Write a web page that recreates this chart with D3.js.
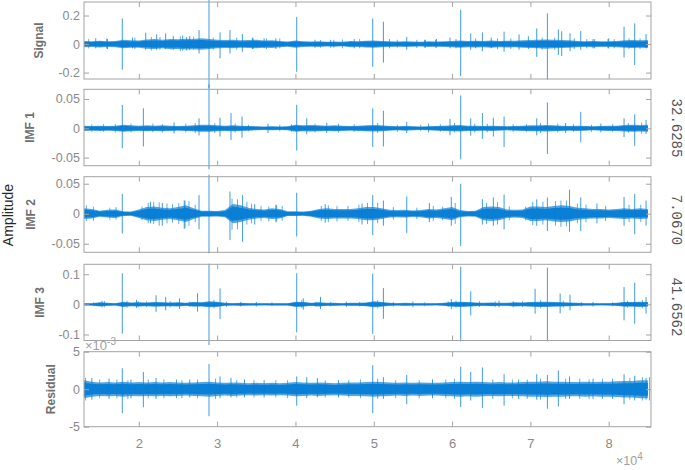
<!DOCTYPE html>
<html lang="en">
<head>
  <meta charset="UTF-8">
  <title>EMD decomposition</title>
  <style>
    body { margin: 0; background: #fff; }
    svg { display: block; font-family: "Liberation Sans", Arial, sans-serif; }
  </style>
</head>
<body>
<div id="chart"></div>
<script src="https://d3js.org/d3.v7.min.js"></script>
<script>
// ---- data ----
const xDomain = [13000, 85400];
const xTicks = [20000, 30000, 40000, 50000, 60000, 70000, 80000];
const xTickLabels = ['2', '3', '4', '5', '6', '7', '8'];

const panelNames = ['Signal', 'IMF 1', 'IMF 2', 'IMF 3', 'Residual'];
const yLimits = [[-0.245, 0.295], [-0.0638, 0.0665], [-0.0643, 0.0617], [-0.12, 0.133], [-5, 5]];
const yTickValues = [[-0.2, 0, 0.2], [-0.05, 0, 0.05], [-0.05, 0, 0.05], [-0.1, 0, 0.1], [-5, 0, 5]];
const yTickLabels = [['-0.2', '0', '0.2'], ['-0.05', '0', '0.05'], ['-0.05', '0', '0.05'], ['-0.1', '0', '0.1'], ['-5', '0', '5']];
const ratioLabels = [null, '32.6285', '7.0670', '41.6562', null];

// noise band half-width, one value per 1000 samples from 13000 to 85000
const envStart = 13000, envStep = 1000;
const sigEnv = [0.022,0.02,0.024,0.02,0.022,0.03,0.026,0.025,0.032,0.035,0.03,0.036,0.034,0.038,0.036,0.04,0.035,
  0.03,0.028,0.03,0.026,0.028,0.03,0.025,0.027,0.022,0.018,0.025,0.02,0.018,0.02,0.017,0.018,0.016,0.022,0.02,0.024,
  0.025,0.022,0.02,0.018,0.02,0.018,0.017,0.02,0.018,0.02,0.022,0.025,0.022,0.024,0.022,0.025,0.022,0.024,0.023,0.026,
  0.028,0.03,0.032,0.03,0.028,0.026,0.022,0.02,0.022,0.02,0.02,0.022,0.026,0.028,0.026,0.028];
const imf1Env = [0.0045,0.004,0.0045,0.004,0.0045,0.006,0.005,0.0045,0.005,0.0045,0.005,0.0045,0.004,0.0045,0.005,
  0.006,0.006,0.005,0.0045,0.005,0.0045,0.004,0.0035,0.003,0.0035,0.003,0.0035,0.006,0.005,0.0055,0.005,0.0045,0.005,
  0.0045,0.004,0.0045,0.005,0.0055,0.005,0.004,0.0035,0.004,0.0035,0.003,0.0035,0.004,0.0045,0.005,0.0055,0.0045,
  0.0045,0.004,0.0045,0.004,0.0035,0.004,0.0045,0.005,0.005,0.0055,0.005,0.0045,0.004,0.0045,0.004,0.0035,0.004,
  0.0045,0.0045,0.0055,0.006,0.0055,0.006];
const imf2Env = [0.009,0.008,0.005,0.0065,0.007,0.004,0.0035,0.007,0.011,0.012,0.01,0.009,0.011,0.014,0.009,0.005,
  0.005,0.0045,0.006,0.016,0.014,0.01,0.008,0.007,0.009,0.008,0.004,0.004,0.0035,0.005,0.008,0.009,0.008,0.008,0.008,
  0.009,0.011,0.011,0.009,0.0065,0.006,0.0065,0.0055,0.006,0.008,0.007,0.009,0.011,0.006,0.0045,0.005,0.011,0.012,
  0.011,0.007,0.0065,0.007,0.012,0.012,0.011,0.013,0.014,0.013,0.01,0.009,0.008,0.008,0.007,0.008,0.009,0.008,0.009,0.008];
const imf3Env = [0.004,0.004,0.007,0.005,0.004,0.009,0.006,0.007,0.006,0.008,0.007,0.006,0.007,0.005,0.008,0.007,
  0.01,0.009,0.005,0.004,0.005,0.004,0.004,0.0035,0.004,0.004,0.004,0.009,0.008,0.005,0.007,0.005,0.005,0.004,0.005,
  0.005,0.006,0.01,0.008,0.005,0.004,0.005,0.004,0.004,0.004,0.0035,0.005,0.008,0.009,0.008,0.006,0.005,0.006,0.005,
  0.005,0.007,0.006,0.008,0.009,0.009,0.008,0.007,0.006,0.005,0.004,0.004,0.0035,0.004,0.005,0.008,0.008,0.009,0.008];
const resEnv = [1.2,1.0,0.9,0.95,0.9,1.0,0.9,0.95,0.9,0.95,0.9,0.95,0.9,0.85,0.9,0.95,1.0,0.9,0.85,0.9,0.85,0.8,
  0.85,0.8,0.85,0.8,0.85,0.95,0.9,0.85,0.9,0.85,0.8,0.85,0.9,0.9,0.95,1.0,0.95,0.9,0.85,0.9,0.85,0.9,0.85,0.85,0.9,
  0.95,1.0,0.95,1.0,0.95,0.9,0.95,0.9,0.9,0.95,1.0,1.0,1.05,1.0,1.0,0.95,0.95,1.0,0.95,1.0,1.0,1.05,1.1,1.1,1.2,1.2];

// large spikes: [sample, top, bottom]
const sigSpikes = [[14500,0.04,-0.03],[16000,0.035,-0.035],[17890,0.18,-0.18],[19200,0.045,-0.03],[20880,0.08,-0.04],
  [22280,0.068,-0.04],[23430,0.075,-0.035],[24400,0.056,-0.04],[25600,0.06,-0.045],[26500,0.055,-0.04],
  [27690,0.098,-0.066],[28960,0.31,-0.31],[30370,0.082,-0.1],[31640,0.098,-0.066],[33220,0.07,-0.054],
  [34500,0.045,-0.035],[36000,0.04,-0.03],[37500,0.04,-0.035],[40160,0.19,-0.195],[42500,0.03,-0.025],
  [44500,0.03,-0.025],[47500,0.035,-0.03],[49870,0.18,-0.16],[51230,0.157,-0.13],[54210,0.05,-0.04],
  [56500,0.03,-0.025],[58000,0.035,-0.025],[59740,0.045,-0.03],[61100,0.24,-0.225],[62380,0.075,-0.04],
  [63870,0.082,-0.05],[65000,0.045,-0.03],[66640,0.087,-0.054],[68550,0.068,-0.04],[69740,0.055,-0.035],
  [70810,0.11,-0.09],[72170,0.215,-0.25],[73570,0.103,-0.077],[74000,0.09,-0.084],[75060,0.075,-0.05],
  [76430,0.091,-0.04],[78000,0.035,-0.03],[80000,0.04,-0.03],[81960,0.122,-0.094],[83320,0.145,-0.147],
  [84770,0.07,-0.03]];
const imf1Spikes = [[17890,0.04,-0.034],[20580,0.034,-0.031],[24500,0.01,-0.009],[27690,0.017,-0.012],
  [28960,0.075,-0.07],[30370,0.018,-0.014],[31770,0.026,-0.02],[33180,0.02,-0.016],[36500,0.008,-0.008],
  [40160,0.04,-0.038],[41440,0.017,-0.01],[44000,0.009,-0.008],[49870,0.034,-0.032],[51230,0.03,-0.031],
  [54210,0.011,-0.008],[57000,0.008,-0.007],[59740,0.016,-0.012],[61100,0.056,-0.053],[62380,0.017,-0.0125],
  [63870,0.026,-0.018],[65270,0.018,-0.014],[66640,0.02,-0.032],[70810,0.017,-0.012],[72170,0.044,-0.044],
  [74500,0.009,-0.008],[76430,0.028,-0.024],[79000,0.008,-0.007],[81960,0.017,-0.015],[83320,0.024,-0.03],
  [84770,0.014,-0.01]];
const imf2Spikes = [[17890,0.033,-0.033],[21500,0.02,-0.016],[23000,0.018,-0.02],[25800,0.022,-0.025],
  [27690,0.031,-0.026],[28960,0.065,-0.066],[31640,0.037,-0.044],[33250,0.031,-0.047],[34800,0.016,-0.018],
  [37500,0.015,-0.014],[40160,0.035,-0.038],[43800,0.016,-0.015],[48500,0.017,-0.018],[49870,0.031,-0.036],
  [51230,0.022,-0.02],[54210,0.029,-0.032],[57100,0.018,-0.014],[59900,0.028,-0.02],[61100,0.05,-0.054],
  [63870,0.024,-0.018],[65270,0.027,-0.02],[66640,0.032,-0.026],[70810,0.024,-0.02],[72170,0.027,-0.029],
  [75000,0.04,-0.03],[76430,0.027,-0.029],[78500,0.017,-0.016],[81960,0.028,-0.02],[83320,0.033,-0.034],
  [84770,0.022,-0.02]];
const imf3Spikes = [[15300,0.012,-0.01],[17890,0.103,-0.097],[19700,0.015,-0.012],[22200,0.03,-0.025],
  [23430,0.025,-0.02],[25200,0.02,-0.015],[27500,0.037,-0.024],[28960,0.135,-0.135],[30370,0.053,-0.049],
  [35000,0.008,-0.007],[40160,0.103,-0.093],[41000,0.02,-0.018],[43200,0.025,-0.015],[46500,0.009,-0.008],
  [49870,0.102,-0.098],[51230,0.054,-0.048],[55000,0.01,-0.009],[59900,0.018,-0.015],[61100,0.125,-0.123],
  [62380,0.043,-0.037],[66000,0.012,-0.01],[70600,0.052,-0.031],[72170,0.122,-0.123],[73800,0.036,-0.03],
  [75060,0.032,-0.02],[78000,0.008,-0.007],[81960,0.058,-0.053],[83320,0.072,-0.064],[84770,0.024,-0.031]];
const resSpikes = [[14000,1.5,-1.4],[16200,1.4,-1.3],[17890,2.8,-3.2],[19000,1.3,-1.2],[20580,2.3,-2.4],
  [22200,1.5,-1.3],[24800,1.3,-1.2],[26500,1.3,-1.1],[28960,3.35,-3.6],[30370,1.7,-1.2],[31770,1.5,-1.1],
  [33500,1.3,-1.1],[36000,1.2,-1.1],[40160,1.7,-2.2],[41440,1.6,-1.2],[42800,1.5,-1.1],[45500,1.2,-1.1],
  [49870,3.2,-3.2],[51230,1.6,-1.3],[54210,1.9,-2.0],[57500,1.3,-1.2],[61100,3.0,-2.4],[62380,2.3,-1.5],
  [63870,2.9,-2.5],[66640,2.0,-2.2],[68500,1.3,-1.3],[70810,2.0,-1.4],[72170,1.9,-2.6],[73570,2.5,-2.3],
  [75000,1.7,-1.3],[78000,1.4,-1.3],[80500,1.4,-1.3],[81960,2.0,-2.0],[83320,1.8,-1.5],[84770,1.5,-1.4]];

// small hairs sticking out of the band: [sample, top, bottom]
const sigHairs = [[13600,0.035,-0.03],[15900,0.038,-0.032],[19500,0.045,-0.035],[21600,0.05,-0.045],
  [22700,0.05,-0.04],[25300,0.055,-0.05],[26100,0.05,-0.045],[27000,0.052,-0.04],[29500,0.045,-0.04],
  [32500,0.045,-0.04],[34600,0.04,-0.035],[36300,0.04,-0.035],[38000,0.038,-0.03],[43200,0.028,-0.025],
  [44900,0.03,-0.025],[46000,0.032,-0.03],[48200,0.035,-0.03],[52000,0.035,-0.03],[53000,0.03,-0.025],
  [55500,0.03,-0.028],[56600,0.03,-0.025],[57900,0.03,-0.025],[60500,0.035,-0.03],[63000,0.04,-0.03],
  [65800,0.04,-0.035],[67500,0.04,-0.035],[71500,0.045,-0.04],[73100,0.045,-0.04],[75600,0.04,-0.035],
  [77200,0.035,-0.03],[78200,0.035,-0.03],[79900,0.035,-0.03],[80700,0.035,-0.03],[82600,0.04,-0.035],
  [84000,0.04,-0.035]];
const imf1Hairs = [[14000,0.007,-0.006],[15500,0.007,-0.006],[17000,0.007,-0.007],[19000,0.008,-0.007],
  [21800,0.008,-0.007],[23000,0.007,-0.007],[26000,0.008,-0.007],[27200,0.009,-0.008],[29700,0.009,-0.008],
  [32300,0.008,-0.007],[34000,0.006,-0.005],[38000,0.006,-0.005],[39500,0.007,-0.006],[42500,0.008,-0.007],
  [45500,0.008,-0.007],[47500,0.007,-0.006],[50500,0.009,-0.008],[53000,0.006,-0.006],[56000,0.006,-0.005],
  [58500,0.007,-0.006],[60300,0.009,-0.007],[62900,0.008,-0.007],[64500,0.008,-0.007],[67800,0.007,-0.006],
  [69500,0.007,-0.006],[71300,0.009,-0.008],[73500,0.008,-0.007],[75500,0.007,-0.006],[77800,0.006,-0.006],
  [80500,0.007,-0.006],[82500,0.009,-0.008],[84200,0.01,-0.009]];
const imf2Hairs = [[13300,0.014,-0.012],[14200,0.012,-0.012],[16300,0.01,-0.01],[17100,0.011,-0.01],
  [20400,0.012,-0.011],[21200,0.018,-0.016],[21900,0.02,-0.017],[22600,0.019,-0.02],[23600,0.017,-0.016],
  [24300,0.016,-0.015],[25100,0.018,-0.017],[25900,0.022,-0.024],[26400,0.021,-0.02],[27200,0.015,-0.014],
  [31900,0.025,-0.027],[32600,0.024,-0.026],[33800,0.02,-0.018],[34400,0.017,-0.016],[35600,0.013,-0.012],
  [36600,0.012,-0.013],[37600,0.014,-0.013],[38300,0.013,-0.012],[43300,0.013,-0.012],[44200,0.014,-0.014],
  [45300,0.013,-0.013],[46700,0.013,-0.012],[48100,0.015,-0.014],[49200,0.018,-0.017],[50500,0.018,-0.016],
  [52500,0.011,-0.01],[55500,0.01,-0.009],[57600,0.013,-0.012],[58800,0.012,-0.011],[60400,0.018,-0.017],
  [64400,0.018,-0.017],[65800,0.019,-0.018],[67300,0.012,-0.011],[69400,0.012,-0.011],[70300,0.02,-0.019],
  [71600,0.02,-0.018],[73200,0.021,-0.02],[73900,0.022,-0.022],[74600,0.022,-0.021],[76000,0.017,-0.016],
  [77100,0.015,-0.014],[79600,0.013,-0.012],[82600,0.015,-0.014],[84100,0.015,-0.014]];
const imf3Hairs = [[14200,0.007,-0.006],[15600,0.011,-0.01],[18500,0.012,-0.011],[19900,0.011,-0.01],
  [21000,0.01,-0.009],[24000,0.011,-0.01],[26500,0.009,-0.008],[29600,0.015,-0.013],[31200,0.009,-0.008],
  [33000,0.008,-0.007],[37000,0.007,-0.006],[40800,0.014,-0.012],[42600,0.009,-0.008],[44500,0.008,-0.007],
  [48200,0.008,-0.007],[50500,0.014,-0.013],[52500,0.008,-0.007],[56500,0.007,-0.006],[59500,0.01,-0.009],
  [60500,0.012,-0.011],[63500,0.01,-0.009],[65500,0.01,-0.009],[67800,0.011,-0.01],[69000,0.01,-0.009],
  [71300,0.014,-0.013],[74200,0.012,-0.011],[76500,0.008,-0.007],[80500,0.007,-0.006],[82400,0.012,-0.011],
  [84300,0.014,-0.013]];
const resHairs = [[13200,1.5,-1.5],[15000,1.3,-1.2],[17200,1.3,-1.2],[18600,1.2,-1.3],[21200,1.3,-1.2],
  [23200,1.3,-1.2],[25500,1.2,-1.2],[27500,1.3,-1.2],[29800,1.4,-1.3],[32500,1.2,-1.1],[34700,1.2,-1.1],
  [37500,1.2,-1.1],[39000,1.2,-1.2],[43800,1.2,-1.1],[46800,1.2,-1.1],[48300,1.3,-1.2],[50500,1.4,-1.3],
  [52800,1.2,-1.2],[55800,1.2,-1.2],[59200,1.3,-1.2],[60300,1.4,-1.3],[65200,1.3,-1.3],[67700,1.3,-1.2],
  [69600,1.3,-1.3],[71300,1.4,-1.4],[74500,1.4,-1.3],[76300,1.4,-1.3],[77500,1.3,-1.3],[79200,1.4,-1.3],
  [82700,1.5,-1.4],[84300,1.6,-1.5],[85200,1.6,-1.5]];

const envs = [sigEnv, imf1Env, imf2Env, imf3Env, resEnv];
const spikes = [sigSpikes, imf1Spikes, imf2Spikes, imf3Spikes, resSpikes];
const hairs = [sigHairs, imf1Hairs, imf2Hairs, imf3Hairs, resHairs];

// ---- layout ----
const width = 685, height = 470;
const left = 84, right = 651;
const panelTop = [2, 89.3, 176.7, 264.3, 351.7];
const panelBottom = [79, 165.7, 252.3, 340.5, 426.7];
const nameX = [39, 30, 31, 40, 51];
const ratioY = [0, 128, 220, 307, 0];
const lineColor = '#0a7fd6';
const axisColor = '#a3a3a3';
const tickText = '#8a8a8a';
const coreShare = 0.72;

const svg = d3.select('#chart').append('svg')
  .attr('width', width)
  .attr('height', height);

const x = d3.scaleLinear().domain(xDomain).range([left, right]);
const envX = d3.range(sigEnv.length).map(i => envStart + i * envStep);

panelNames.forEach((name, k) => {
  const y = d3.scaleLinear().domain(yLimits[k]).range([panelBottom[k], panelTop[k]]);
  const g = svg.append('g');

  // noise band: lighter outer part, dense core
  const band = share => d3.area()
    .x((d, i) => x(envX[i]))
    .y0(d => y(-d * share))
    .y1(d => y(d * share));
  g.append('path')
    .datum(envs[k])
    .attr('d', band(1))
    .attr('fill', lineColor)
    .attr('fill-opacity', 0.7);
  g.append('path')
    .datum(envs[k])
    .attr('d', band(coreShare))
    .attr('fill', lineColor);

  // hairs and spikes
  g.selectAll('line.hair')
    .data(hairs[k])
    .join('line')
    .attr('class', 'hair')
    .attr('x1', d => x(d[0])).attr('x2', d => x(d[0]))
    .attr('y1', d => y(d[1])).attr('y2', d => y(d[2]))
    .attr('stroke', lineColor)
    .attr('stroke-width', 1)
    .attr('stroke-opacity', 0.65);

  g.selectAll('line.spike')
    .data(spikes[k])
    .join('line')
    .attr('class', 'spike')
    .attr('x1', d => x(d[0])).attr('x2', d => x(d[0]))
    .attr('y1', d => y(d[1])).attr('y2', d => y(d[2]))
    .attr('stroke', lineColor)
    .attr('stroke-width', 1)
    .attr('stroke-opacity', 0.78);

  // axes, ticks pointing inward
  const bottomAxis = d3.axisBottom(x).tickValues(xTicks).tickSize(-5).tickPadding(12)
    .tickFormat((d, i) => k === 4 ? xTickLabels[i] : '');
  const topAxis = d3.axisTop(x).tickValues(xTicks).tickSize(-5).tickFormat('');
  const leftAxis = d3.axisLeft(y).tickValues(yTickValues[k]).tickSize(-5).tickPadding(4)
    .tickFormat((d, i) => yTickLabels[k][i]);
  const rightAxis = d3.axisRight(y).tickValues(yTickValues[k]).tickSize(-5).tickFormat('');

  const axes = [
    g.append('g').attr('transform', `translate(0,${panelBottom[k]})`).call(bottomAxis),
    g.append('g').attr('transform', `translate(0,${panelTop[k]})`).call(topAxis),
    g.append('g').attr('transform', `translate(${left},0)`).call(leftAxis),
    g.append('g').attr('transform', `translate(${right},0)`).call(rightAxis)
  ];
  axes.forEach(a => {
    a.select('.domain').remove();
    a.selectAll('.tick line').attr('stroke', axisColor);
    a.selectAll('.tick text').attr('fill', tickText).style('font-size', '12.5px')
      .style('font-family', '"Liberation Sans", Arial, sans-serif');
  });
  if (k === 4) axes[0].selectAll('.tick text').style('font-size', '13px');

  g.append('rect')
    .attr('x', left).attr('y', panelTop[k])
    .attr('width', right - left).attr('height', panelBottom[k] - panelTop[k])
    .attr('fill', 'none').attr('stroke', axisColor).attr('stroke-width', 1);

  // panel name
  const midY = (panelTop[k] + panelBottom[k]) / 2;
  g.append('text')
    .attr('transform', `translate(${nameX[k]},${midY}) rotate(-90)`)
    .attr('text-anchor', 'middle')
    .attr('dy', '0.35em')
    .attr('fill', '#707070')
    .style('font-size', '12px')
    .style('font-weight', 'bold')
    .text(name);

  // ratio label on the right
  if (ratioLabels[k]) {
    g.append('text')
      .attr('transform', `translate(677,${ratioY[k]}) rotate(90)`)
      .attr('text-anchor', 'middle')
      .attr('dy', '0.35em')
      .attr('fill', '#555')
      .style('font-family', '"Liberation Mono", "DejaVu Sans Mono", monospace')
      .style('font-size', '14px')
      .text(ratioLabels[k]);
  }
});

// common y label
svg.append('text')
  .attr('transform', 'translate(8,215) rotate(-90)')
  .attr('text-anchor', 'middle')
  .attr('dy', '0.35em')
  .attr('fill', '#262626')
  .style('font-size', '14px')
  .text('Amplitude');

// exponent labels
const expY = svg.append('text')
  .attr('x', 85).attr('y', 350)
  .attr('fill', '#a0a0a0')
  .style('font-size', '13px');
expY.append('tspan').text('×10');
expY.append('tspan').attr('dy', -5).style('font-size', '10px').text('-3');

const expX = svg.append('text')
  .attr('x', 616).attr('y', 465)
  .attr('fill', '#a0a0a0')
  .style('font-size', '12.5px');
expX.append('tspan').text('×10');
expX.append('tspan').attr('dy', -5).style('font-size', '10px').text('4');
</script>
</body>
</html>
